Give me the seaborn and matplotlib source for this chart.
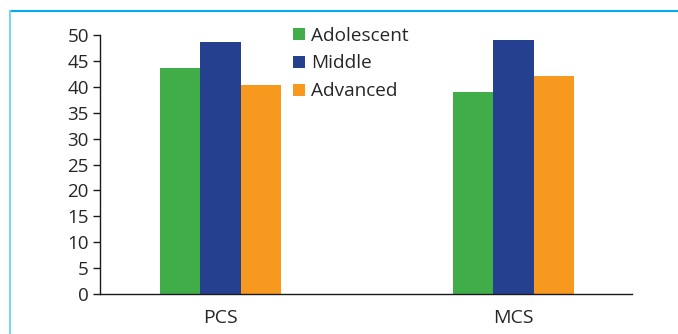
import matplotlib
matplotlib.use("Agg")
import matplotlib.pyplot as plt
import matplotlib.lines as mlines
import pandas as pd
import seaborn as sns

# Scores per component, split by stage group
categories = ["PCS", "MCS"]
groups = ["Adolescent", "Middle", "Advanced"]
adolescent = [43.7, 38.9]
middle = [48.7, 49.1]
advanced = [40.4, 42.0]
y_ticks = [0, 5, 10, 15, 20, 25, 30, 35, 40, 45, 50]

colors = ["#41AD49", "#25408F", "#F7981F"]

rows = []
for g, vals in zip(groups, [adolescent, middle, advanced]):
    for c, v in zip(categories, vals):
        rows.append({"component": c, "group": g, "score": v})
df = pd.DataFrame(rows)

sns.set_style("white")
plt.rcParams["font.family"] = ["Open Sans", "DejaVu Sans"]

fig = plt.figure(figsize=(6.78, 3.34), dpi=100)
ax = fig.add_axes([100 / 678, 1 - 294 / 334, 532 / 678, (294 - 35) / 334])

sns.barplot(data=df, x="component", y="score", hue="group",
            hue_order=groups, order=categories, palette=colors,
            width=0.413, gap=0, saturation=1, linewidth=0,
            dodge=True, ax=ax, legend=False)

ax.set_xlim(-0.411, 1.404)
ax.set_ylim(0, 50)
ax.set_yticks(y_ticks)
ax.set_yticklabels([str(t) for t in y_ticks], fontsize=13.5)
ax.set_xlabel("")
ax.set_ylabel("")

for side in ["top", "right"]:
    ax.spines[side].set_visible(False)
for side in ["left", "bottom"]:
    ax.spines[side].set_color("#1a1a1a")
    ax.spines[side].set_linewidth(1.0)

# Category labels without tick marks; boundary ticks drawn as minor ticks
ax.tick_params(axis="x", which="major", length=0, labelsize=14, pad=11)
ax.set_xticks([0.5, 1.404], minor=True)
ax.tick_params(axis="x", which="minor", length=6, width=1.0,
               color="#1a1a1a", direction="out")
ax.tick_params(axis="y", length=5, width=1.0, color="#1a1a1a",
               direction="out", left=True, pad=3)

# Legend with square markers
handles = [mlines.Line2D([], [], marker="s", linestyle="none",
                         markersize=9, markerfacecolor=c,
                         markeredgewidth=0) for c in colors]
fig.legend(handles, groups, loc="upper left",
           bbox_to_anchor=(281 / 678, 1 - 17 / 334),
           frameon=False, fontsize=13.7, handlelength=0.9,
           handletextpad=0.2, labelspacing=0.52, borderpad=0)

# Outer frame lines (top and left)
fig.add_artist(mlines.Line2D([9.5 / 678, 1.0], [1 - 10.7 / 334, 1 - 10.7 / 334],
                             transform=fig.transFigure, color="#00AEEF",
                             linewidth=1.5))
fig.add_artist(mlines.Line2D([9.5 / 678, 9.5 / 678], [0.0, 1 - 10.7 / 334],
                             transform=fig.transFigure, color="#7DD3F2",
                             linewidth=1.5))

fig.savefig("out.png", dpi=100)
